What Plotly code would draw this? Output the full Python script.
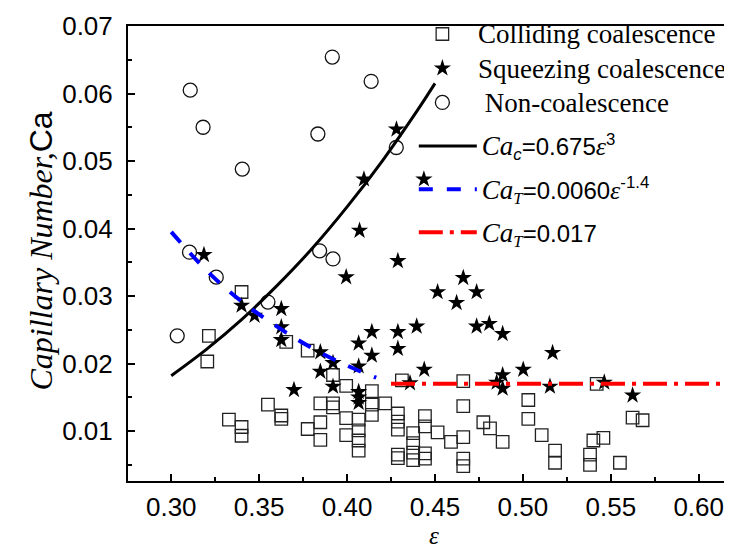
import plotly.graph_objects as go

# ---------------- data ----------------
colliding_x = [0.3400, 0.3214, 0.3205, 0.3654, 0.3776, 0.3920, 0.3995, 0.4141, 0.4312, 0.3550,
               0.3626, 0.3626, 0.3328, 0.3400, 0.3400, 0.3848, 0.3920, 0.3920, 0.3848, 0.3776,
               0.3848, 0.3995, 0.3995, 0.4066, 0.4066, 0.4066, 0.4066, 0.4141, 0.4141, 0.4217,
               0.4289, 0.4289, 0.4289, 0.4289, 0.4289, 0.4661, 0.4661, 0.4661, 0.4661, 0.4661,
               0.4443, 0.4443, 0.4443, 0.4443, 0.4376, 0.4376, 0.4376, 0.4376, 0.4515, 0.4591,
               0.4775, 0.4813, 0.4885, 0.5031, 0.5031, 0.5107, 0.5183, 0.5183, 0.5401, 0.5458,
               0.5382, 0.5382, 0.5552, 0.5420, 0.5624, 0.5681]
colliding_y = [0.0306, 0.0241, 0.0203, 0.0232, 0.0219, 0.0183, 0.0167, 0.0159, 0.0175, 0.0139,
               0.0123, 0.0118, 0.0117, 0.0106, 0.0093, 0.0141, 0.0141, 0.0135, 0.0113, 0.0103,
               0.0087, 0.0119, 0.0094, 0.0117, 0.0101, 0.0086, 0.0071, 0.0139, 0.0124, 0.0141,
               0.0126, 0.0114, 0.0102, 0.0065, 0.0060, 0.0174, 0.0137, 0.0091, 0.0059, 0.0048,
               0.0122, 0.0107, 0.0067, 0.0059, 0.0097, 0.0082, 0.0068, 0.0057, 0.0098, 0.0084,
               0.0113, 0.0104, 0.0084, 0.0146, 0.0118, 0.0094, 0.0071, 0.0053, 0.0086, 0.0090,
               0.0065, 0.0050, 0.0053, 0.0170, 0.0120, 0.0116]

squeezing_x = [0.4281, 0.4096, 0.4437, 0.4071, 0.4289, 0.3995, 0.3186, 0.3400, 0.3474, 0.3626,
               0.3626, 0.3626, 0.3698, 0.3848, 0.3848, 0.3920, 0.3920, 0.4066, 0.4066, 0.4066,
               0.4066, 0.4066, 0.4141, 0.4141, 0.4289, 0.4289, 0.4661, 0.4515, 0.4737, 0.4623,
               0.4396, 0.4737, 0.4809, 0.4885, 0.4439, 0.4358, 0.4885, 0.4851, 0.4885, 0.5002,
               0.5169, 0.5154, 0.5463, 0.5624]
squeezing_y = [0.0547, 0.0473, 0.0473, 0.0397, 0.0352, 0.0328, 0.0361, 0.0286, 0.0271, 0.0281,
               0.0254, 0.0235, 0.0161, 0.0217, 0.0188, 0.0201, 0.0166, 0.0230, 0.0196, 0.0158,
               0.0150, 0.0142, 0.0247, 0.0212, 0.0247, 0.0222, 0.0327, 0.0306, 0.0306, 0.0290,
               0.0255, 0.0255, 0.0259, 0.0244, 0.0191, 0.0171, 0.0183, 0.0172, 0.0163, 0.0191,
               0.0216, 0.0166, 0.0172, 0.0153]

noncoal_x = [0.3916, 0.4137, 0.3108, 0.3181, 0.3834, 0.4280, 0.3404, 0.3104, 0.3844, 0.3920,
             0.3256, 0.3550, 0.3034]
noncoal_y = [0.0654, 0.0618, 0.0605, 0.0550, 0.0540, 0.0520, 0.0488, 0.0365, 0.0367, 0.0355,
             0.0328, 0.0291, 0.0241]

fit_c_x = [0.30, 0.32, 0.34, 0.36, 0.38, 0.40, 0.42, 0.44, 0.45]
fit_c_y = [0.0182, 0.0221, 0.0265, 0.0315, 0.0370, 0.0432, 0.0500, 0.0575, 0.0615]

fit_t_x = [0.30, 0.32, 0.34, 0.36, 0.38, 0.40, 0.4166]
fit_t_y = [0.0395, 0.0338, 0.0292, 0.0255, 0.0223, 0.0197, 0.0179]

const_t_x = [0.425, 0.63]
const_t_y = [0.017, 0.017]

x_tick_vals = [0.30, 0.35, 0.40, 0.45, 0.50, 0.55, 0.60]
y_tick_vals = [0.01, 0.02, 0.03, 0.04, 0.05, 0.06, 0.07]

SERIF = "Liberation Serif"
SANS = "Liberation Sans"

def big(t):
    return "<span style=\"font-size:27px\">" + t + "</span>"

fig = go.Figure()

fig.add_trace(go.Scatter(
    x=colliding_x, y=colliding_y, mode="markers", name=big("Colliding coalescence"),
    marker=dict(symbol="square-open", size=12.5, color="#222222", line=dict(width=1.3, color="#222222")),
    legend="legend", legendgroup="a"))
fig.add_trace(go.Scatter(
    x=squeezing_x, y=squeezing_y, mode="markers", name=big("Squeezing coalescence"),
    marker=dict(symbol="star", size=13, color="black", line=dict(width=0)),
    legend="legend", legendgroup="b"))
fig.add_trace(go.Scatter(
    x=noncoal_x, y=noncoal_y, mode="markers", name=big("\u00a0Non-coalescence"),
    marker=dict(symbol="circle-open", size=14, color="#111111", line=dict(width=1.3, color="#111111")),
    legend="legend", legendgroup="c"))

ca = "<span style=\"font-family:'Liberation Serif';font-size:27px\"><i>Ca</i></span>"
eps = "<span style=\"font-family:'Liberation Serif';font-size:26px\"><i>ε</i></span>"
subT = "<sub><span style=\"font-family:'Liberation Serif'\"><i>T</i></span></sub>"

fig.add_trace(go.Scatter(
    x=fit_c_x, y=fit_c_y, mode="lines", line=dict(color="black", width=3, shape="spline"),
    name=ca + "<sub><i>c</i></sub>=0.675" + eps + "<sup>3</sup>",
    legend="legend2", legendgroup="d"))
fig.add_trace(go.Scatter(
    x=fit_t_x, y=fit_t_y, mode="lines", line=dict(color="#0000ff", width=4, dash="14px,14px", shape="spline"),
    name=ca + subT + "=0.0060" + eps + "<sup>-1.4</sup>",
    legend="legend2", legendgroup="e"))
fig.add_trace(go.Scatter(
    x=const_t_x, y=const_t_y, mode="lines", line=dict(color="#ff0000", width=4, dash="24px,7px,4px,7px"),
    name=ca + subT + "=0.017",
    legend="legend2", legendgroup="f"))

axis_common = dict(
    showline=True, linewidth=2, linecolor="black",
    ticks="inside", ticklen=7, tickwidth=2, tickcolor="black",
    showgrid=False, zeroline=False,
    tickfont=dict(family=SANS, size=26, color="black"),
)

fig.update_layout(
    width=732, height=552,
    margin=dict(l=120, r=0, t=18, b=79),
    paper_bgcolor="white", plot_bgcolor="white",
    showlegend=True,
    xaxis=dict(
        range=[0.2754, 0.6235], tickvals=x_tick_vals, tickformat=".2f", mirror=True,
        minor=dict(ticks="inside", ticklen=4, tickwidth=2, tickcolor="black", dtick=0.025, tick0=0.3, showgrid=False),
        ticklabelstandoff=2,
        **axis_common),
    yaxis=dict(
        range=[0.0026, 0.07], tickvals=y_tick_vals, tickformat=".2f", mirror=False,
        minor=dict(ticks="inside", ticklen=4, tickwidth=2, tickcolor="black", dtick=0.005, tick0=0, showgrid=False),
        ticklabelstandoff=8,
        **axis_common),
    legend=dict(x=0.4557, y=1.031, xanchor="left", yanchor="top", bgcolor="rgba(0,0,0,0)",
                font=dict(family=SERIF, size=24, color="black"), itemwidth=61,
                tracegroupgap=0, traceorder="normal"),
    legend2=dict(x=0.467, y=0.785, xanchor="left", yanchor="top", bgcolor="rgba(0,0,0,0)",
                 font=dict(family=SANS, size=24, color="black"), itemwidth=58,
                 tracegroupgap=9, traceorder="grouped"),
    annotations=[
        dict(text="<i>Capillary Number,</i><span style=\"font-family:'Liberation Sans'\">Ca</span>",
             xref="paper", yref="paper", x=0, y=0.5, xanchor="center", yanchor="middle",
             xshift=-88, yshift=2, textangle=-90, showarrow=False,
             font=dict(family=SERIF, size=32, color="black")),
        dict(text="<i>ε</i>", xref="paper", yref="paper", x=0.5, y=0, xanchor="center", yanchor="middle",
             yshift=-54.5, showarrow=False, font=dict(family=SERIF, size=25, color="black")),
    ],
)

fig.write_html("out.html")
